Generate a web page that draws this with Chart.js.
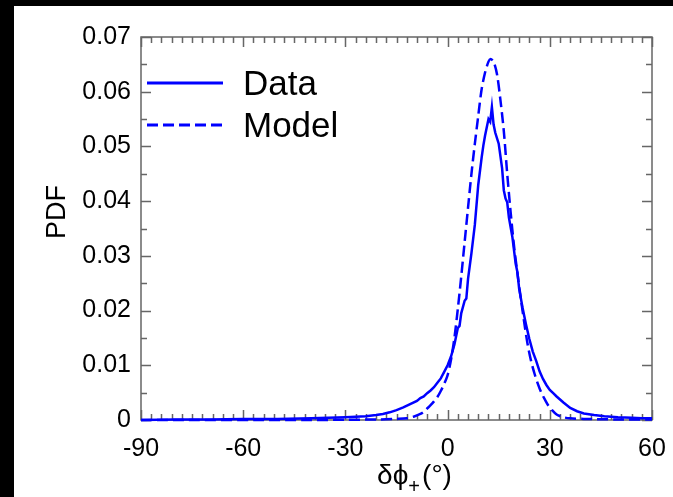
<!DOCTYPE html>
<html>
<head>
<meta charset="utf-8">
<script src="https://cdn.jsdelivr.net/npm/chart.js@4.4.1/dist/chart.umd.min.js"></script>
<style>
  html, body { margin: 0; padding: 0; background: #000; }
  #wrap { position: absolute; left: 14px; top: 6px; width: 659px; height: 491px; background: #fff; }
</style>
</head>
<body>
<div id="wrap"><canvas id="chart"></canvas></div>
<script>
// ── Data ─────────────────────────────────────────────────────────────────────
const dataX = [-90, -80, -70, -60, -50, -40, -35, -30, -27, -24, -21, -19, -17, -15, -13, -11, -9, -8, -7, -6, -5, -4, -3, -2, -1,
    0, 1, 2, 3, 3.5, 4, 5, 5.5, 6, 7, 8, 9, 10, 10.5, 11, 12, 12.5, 13, 13.5, 14, 15, 16, 16.5, 17, 17.5, 18, 19, 20, 20.5,
    21, 22, 23, 24, 25, 26, 27, 28, 29, 30, 31, 32, 34, 36, 38, 40, 43, 46, 50, 54, 57, 60];
const dataY = [0.0000, 0.0001, 0.0001, 0.0002, 0.0002, 0.0003, 0.0004, 0.0005, 0.0006, 0.0007, 0.0009, 0.0011, 0.0014, 0.0018, 0.0023, 0.0029, 0.0035, 0.0040, 0.0043, 0.0049, 0.0054, 0.0060, 0.0068, 0.0076, 0.0088,
    0.0100, 0.0116, 0.0138, 0.0168, 0.0172, 0.0195, 0.0218, 0.0222, 0.0258, 0.0305, 0.0357, 0.0430, 0.0480, 0.0502, 0.0520, 0.0550, 0.0545, 0.0572, 0.0540, 0.0525, 0.0505, 0.0460, 0.0420, 0.0405, 0.0398, 0.0370, 0.0335, 0.0285, 0.0270,
    0.0240, 0.0205, 0.0175, 0.0148, 0.0125, 0.0108, 0.0089, 0.0075, 0.0064, 0.0055, 0.0049, 0.0043, 0.0032, 0.0022, 0.0016, 0.0012, 0.0009, 0.0007, 0.0005, 0.0004, 0.0003, 0.0003];

const modelX = [-90, -40, -30, -20, -15, -12, -10, -8, -7, -6, -5, -4, -3, -2, -1, 0, 1, 2, 3, 4, 5, 6, 7, 8, 9, 10, 11, 12, 12.6,
    13.5, 14.5, 15.5, 16.5, 17.5, 18.5, 19.5, 20.5, 21.5, 22.5, 23.5, 24.5, 25.5, 26.5, 27.5, 28.5, 29.5, 30.5, 32, 34, 36, 40, 50, 60];
const modelY = [0.0000, 0.0000, 0.00005, 0.0001, 0.0002, 0.0003, 0.0006, 0.0011, 0.0015, 0.0021, 0.0027, 0.0034, 0.0042, 0.0053, 0.0066, 0.0082, 0.0110, 0.0150, 0.0203, 0.0262, 0.0325, 0.0388, 0.0450, 0.0505, 0.0556, 0.0605, 0.0635, 0.0655, 0.0660,
    0.0655, 0.0632, 0.0585, 0.0528, 0.0450, 0.0380, 0.0318, 0.0268, 0.0222, 0.0178, 0.0138, 0.0108, 0.0085, 0.0066, 0.0050, 0.0038, 0.0027, 0.0019, 0.0010, 0.0005, 0.0003, 0.0002, 0.0001, 0.0001];

const xTicks = [-90, -60, -30, 0, 30, 60];
const yTicks = [0, 0.01, 0.02, 0.03, 0.04, 0.05, 0.06, 0.07];
const xMinorStep = 3;
const yMinorStep = 0.005;
const seriesNames = ["Data", "Model"];

const BLUE = "#0000ff";
const FRAME = "#666";
const FONT = "'Liberation Sans', Arial, sans-serif";

// frame with inward ticks on all four sides
const framePlugin = {
    id: "frame",
    beforeDatasetsDraw(chart) {
        const { ctx, chartArea: a, scales: { x, y } } = chart;
        ctx.save();
        ctx.strokeStyle = FRAME;
        ctx.lineWidth = 1.5;
        ctx.strokeRect(a.left, a.top, a.right - a.left, a.bottom - a.top);
        ctx.beginPath();
        for (let v = x.min; v <= x.max + 1e-9; v += xMinorStep) {
            const px = Math.round(x.getPixelForValue(v)) + 0.5;
            const len = xTicks.includes(Math.round(v)) ? 10 : 6;
            ctx.moveTo(px, a.bottom); ctx.lineTo(px, a.bottom - len);
            ctx.moveTo(px, a.top); ctx.lineTo(px, a.top + len);
        }
        for (let i = 0; i * yMinorStep <= y.max + 1e-9; i++) {
            const py = Math.round(y.getPixelForValue(i * yMinorStep)) + 0.5;
            const len = i % 2 === 0 ? 10 : 6;
            ctx.moveTo(a.left, py); ctx.lineTo(a.left + len, py);
            ctx.moveTo(a.right, py); ctx.lineTo(a.right - len, py);
        }
        ctx.stroke();
        ctx.restore();
    },
    afterDraw(chart) {
        const { ctx, chartArea: a } = chart;
        ctx.save();
        // legend
        const lx = 133, ly = [77, 119];
        ctx.strokeStyle = BLUE;
        ctx.lineWidth = 3;
        chart.data.datasets.forEach((ds, i) => {
            ctx.setLineDash(ds.borderDash || []);
            ctx.beginPath();
            ctx.moveTo(lx, ly[i]); ctx.lineTo(lx + 76, ly[i]);
            ctx.stroke();
        });
        ctx.setLineDash([]);
        ctx.fillStyle = "#000";
        ctx.font = "35px " + FONT;
        ctx.textBaseline = "middle";
        seriesNames.forEach((n, i) => ctx.fillText(n, lx + 96, ly[i] + 2));

        // y axis title
        ctx.save();
        ctx.translate(44, 206);
        ctx.rotate(-Math.PI / 2);
        ctx.textAlign = "center";
        ctx.font = "27px " + FONT;
        ctx.fillText("PDF", 0, 0);
        ctx.restore();

        // x axis title: δϕ+(°)
        const cx = (a.left + a.right) / 2 + 17;
        const base = 478;
        ctx.textBaseline = "alphabetic";
        ctx.font = "28px " + FONT;
        const w1 = ctx.measureText("δϕ").width;
        ctx.font = "20px " + FONT;
        const w2 = ctx.measureText("+").width;
        ctx.font = "28px " + FONT;
        const w3 = ctx.measureText("(°)").width;
        let sx = cx - (w1 + w2 + w3) / 2;
        ctx.fillText("δϕ", sx, base);
        ctx.font = "20px " + FONT;
        ctx.fillText("+", sx + w1, base + 9);
        ctx.font = "28px " + FONT;
        ctx.fillText("(°)", sx + w1 + w2 + 2, base);
        ctx.restore();
    }
};

new Chart(document.getElementById("chart"), {
    type: "line",
    data: {
        datasets: [
            {
                label: seriesNames[0],
                data: dataX.map((v, i) => ({ x: v, y: dataY[i] })),
                borderColor: BLUE,
                borderWidth: 2.5,
                pointRadius: 0,
                tension: 0,
                clip: 4,
            },
            {
                label: seriesNames[1],
                data: modelX.map((v, i) => ({ x: v, y: modelY[i] })),
                borderColor: BLUE,
                borderWidth: 2.5,
                borderDash: [11, 5],
                pointRadius: 0,
                tension: 0.3,
                clip: 4,
            }
        ]
    },
    options: {
        responsive: true,
        maintainAspectRatio: false,
        animation: false,
        layout: { padding: { left: 0, top: 31, right: 21, bottom: 0 } },
        plugins: { legend: { display: false }, tooltip: { enabled: false } },
        scales: {
            x: {
                type: "linear",
                min: -90,
                max: 60,
                afterBuildTicks: s => { s.ticks = xTicks.map(v => ({ value: v })); },
                afterFit: s => { s.height = 77; },
                grid: { display: false },
                border: { display: false },
                ticks: { color: "#000", font: { family: FONT, size: 25 }, padding: 6, maxRotation: 0, autoSkip: false },
            },
            y: {
                min: 0,
                max: 0.07,
                afterBuildTicks: s => { s.ticks = yTicks.map(v => ({ value: v })); },
                afterFit: s => { s.width = 127; },
                grid: { display: false },
                border: { display: false },
                ticks: {
                    color: "#000",
                    font: { family: FONT, size: 25 },
                    padding: 2,
                    callback: v => v === 0 ? "0" : v.toFixed(2),
                },
            }
        }
    },
    plugins: [framePlugin]
});
</script>
</body>
</html>
